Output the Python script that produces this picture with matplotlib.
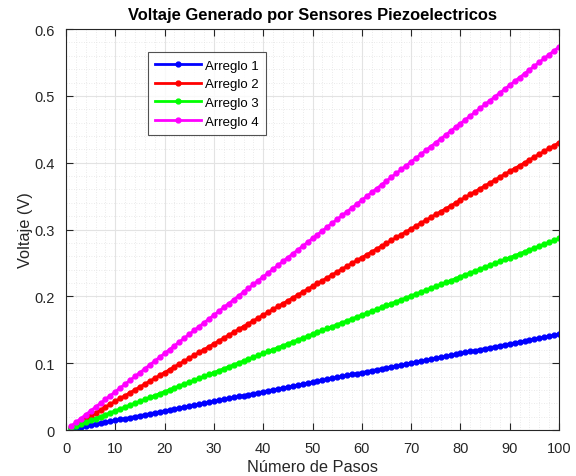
import matplotlib
matplotlib.use("Agg")
import matplotlib.pyplot as plt
import numpy as np
from matplotlib.ticker import MultipleLocator, FormatStrFormatter

plt.rcParams["font.family"] = ["Liberation Sans", "DejaVu Sans"]

# numero de pasos (1..100)
pasos = np.arange(1, 101)

labels = ["Arreglo 1", "Arreglo 2", "Arreglo 3", "Arreglo 4"]
volt_por_paso = [0.001433, 0.0043, 0.002867, 0.005733]
colors = ["#0000ff", "#ff0000", "#00ff00", "#ff00ff"]

fig = plt.figure(figsize=(5.76, 4.77), dpi=100)
ax = fig.add_axes([0.1146, 0.0964, 0.856, 0.8406])

for lab, v, c in zip(labels, volt_por_paso, colors):
    ax.plot(pasos, v * pasos, color=c, linewidth=2, marker="o", markersize=3.5,
            label=lab)

ax.set_xlim(0, 100)
ax.set_ylim(0, 0.6)
ax.xaxis.set_major_locator(MultipleLocator(10))
ax.yaxis.set_major_locator(MultipleLocator(0.1))
ax.xaxis.set_minor_locator(MultipleLocator(2))
ax.yaxis.set_minor_locator(MultipleLocator(0.02))
ax.yaxis.set_major_formatter(FormatStrFormatter("%g"))

ax.grid(True, which="major", color="#e3e3e3", linewidth=0.8)
ax.grid(True, which="minor", color="#e3e3e3", linewidth=0.6, linestyle=(0, (1, 2)))
ax.set_axisbelow(True)
ax.tick_params(which="both", direction="in", top=True, right=True,
               labelsize=10.5, colors="#262626", length=5, pad=8)
ax.tick_params(which="minor", length=0)
for s in ax.spines.values():
    s.set_color("#262626")
    s.set_linewidth(0.8)

ax.set_title("Voltaje Generado por Sensores Piezoelectricos", fontsize=11.9,
             fontweight="bold", pad=7)
ax.set_xlabel("Número de Pasos", fontsize=11.8, color="#262626", labelpad=3)
ax.set_ylabel("Voltaje (V)", fontsize=11.8, color="#262626", labelpad=1)

leg = ax.legend(loc="upper left", bbox_to_anchor=(0.166, 0.942), fontsize=9.5,
                frameon=True, fancybox=False, edgecolor="#262626",
                handlelength=3.5, borderpad=0.55, labelspacing=0.48,
                handletextpad=0.3, borderaxespad=0)
leg.get_frame().set_linewidth(0.8)

fig.savefig("out.png", dpi=100)
